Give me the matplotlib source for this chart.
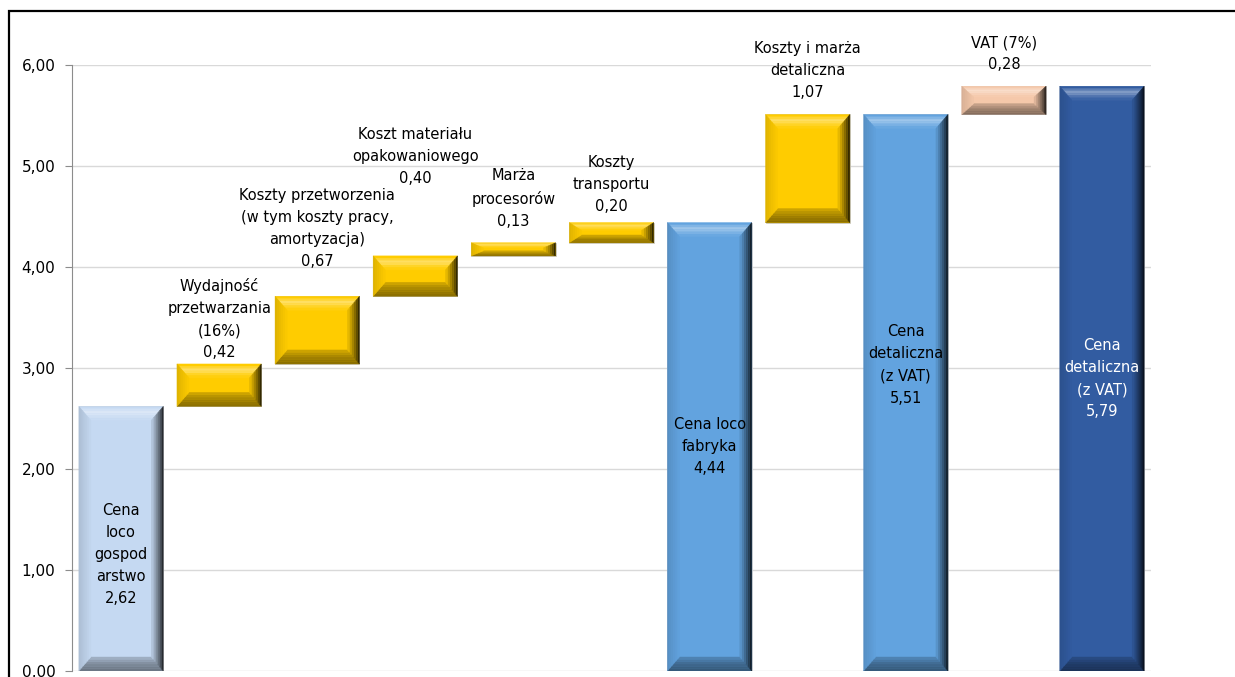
import matplotlib
matplotlib.use("Agg")
import matplotlib.pyplot as plt
from matplotlib.patches import Polygon, Rectangle
from matplotlib.ticker import FuncFormatter
from matplotlib.colors import to_rgb

# data: waterfall of price build-up (PLN/kg)
labels = [
    "Cena\nloco\ngospod\narstwo",
    "Wydajność\nprzetwarzania\n(16%)",
    "Koszty przetworzenia\n(w tym koszty pracy,\namortyzacja)",
    "Koszt materiału\nopakowaniowego",
    "Marża\nprocesorów",
    "Koszty\ntransportu",
    "Cena loco\nfabryka",
    "Koszty i marża\ndetaliczna",
    "Cena\ndetaliczna\n(z VAT)",
    "VAT (7%)",
    "Cena\ndetaliczna\n(z VAT)",
]
values = [2.62, 0.42, 0.67, 0.40, 0.13, 0.20, 4.44, 1.07, 5.51, 0.28, 5.79]
is_total = [True, False, False, False, False, False, True, False, True, False, True]

# style
colors = ["#c5d9f2", "#ffcc00", "#ffcc00", "#ffcc00", "#ffcc00", "#ffcc00",
          "#62a3df", "#ffcc00", "#62a3df", "#f5c8aa", "#325ca1"]
text_colors = ["black", None, None, None, None, None, "black", None, "black", None, "white"]
label_gap = [0, 2.5, 19.5, 50, 10, 6, 0, 10.5, 0, 10, 0]    # points above bar for step labels
inside_frac = [0.44, 0, 0, 0, 0, 0, 0.5, 0, 0.55, 0, 0.5]  # vertical position of inside labels

plt.rcParams['font.family'] = ['DejaVu Sans']

# bottoms from running total
bottoms = []
running = 0
for v, t in zip(values, is_total):
    if t:
        bottoms.append(0)
        running = v
    else:
        bottoms.append(running)
        running += v

fig = plt.figure(figsize=(12.35, 6.77), dpi=100)
ax = fig.add_axes([72 / 1235, 6 / 677, (1151 - 72) / 1235, 606 / 677])

x = list(range(len(values)))
bars = ax.bar(x, values, bottom=bottoms, width=0.86, color=colors,
              edgecolor="#c8c8c8", linewidth=0.6, zorder=3)


def mix(c, other, f):
    c = to_rgb(c)
    o = to_rgb(other)
    return tuple(c[i] * (1 - f) + o[i] * f for i in range(3))


# shading profiles for the bevel, outer edge -> inner edge
top_prof = [("white", 0.0), ("white", 0.2), ("white", 0.38), ("white", 0.3), ("white", 0.15), ("white", 0.05)]
left_prof = [("black", 0.12), ("black", 0.1), ("black", 0.08), ("black", 0.06), ("black", 0.04), ("black", 0.02)]
right_prof = [("black", 0.8), ("black", 0.62), ("black", 0.48), ("black", 0.35), ("black", 0.22), ("black", 0.1)]
bot_prof = [("black", 0.45), ("black", 0.42), ("black", 0.38), ("black", 0.33), ("black", 0.27), ("black", 0.2)]

px_x = 1079 / len(values)   # pixels per category
px_y = 606 / 6.0            # pixels per unit
for b, c in zip(bars, colors):
    x0 = b.get_x()
    x1 = x0 + b.get_width()
    y0 = b.get_y()
    y1 = y0 + b.get_height()
    dy = min(14 / px_y, b.get_height() / 2.6)
    dx = 12 / px_x
    n = len(top_prof)
    for k in range(n):
        t0 = k / n
        t1 = (k + 1) / n
        sides = [
            ([(x0 + t0 * dx, y1 - t0 * dy), (x1 - t0 * dx, y1 - t0 * dy),
              (x1 - t1 * dx, y1 - t1 * dy), (x0 + t1 * dx, y1 - t1 * dy)], top_prof[k]),
            ([(x0 + t0 * dx, y0 + t0 * dy), (x1 - t0 * dx, y0 + t0 * dy),
              (x1 - t1 * dx, y0 + t1 * dy), (x0 + t1 * dx, y0 + t1 * dy)], bot_prof[k]),
            ([(x0 + t0 * dx, y0 + t0 * dy), (x0 + t0 * dx, y1 - t0 * dy),
              (x0 + t1 * dx, y1 - t1 * dy), (x0 + t1 * dx, y0 + t1 * dy)], left_prof[k]),
            ([(x1 - t0 * dx, y0 + t0 * dy), (x1 - t0 * dx, y1 - t0 * dy),
              (x1 - t1 * dx, y1 - t1 * dy), (x1 - t1 * dx, y0 + t1 * dy)], right_prof[k]),
        ]
        for pts, (other, f) in sides:
            col = mix(c, other, f)
            ax.add_patch(Polygon(pts, closed=True, facecolor=col, edgecolor=col,
                                 lw=0.3, zorder=4))

# labels
for i, (lab, v) in enumerate(zip(labels, values)):
    txt = lab + "\n" + f"{v:.2f}".replace(".", ",")
    if is_total[i]:
        ax.text(i, v * inside_frac[i], txt, ha="center", va="center", fontsize=10.5,
                color=text_colors[i], linespacing=1.6, zorder=5)
    else:
        ax.annotate(txt, (i, bottoms[i] + v), xytext=(0, label_gap[i]),
                    textcoords="offset points", ha="center", va="bottom",
                    fontsize=10.5, linespacing=1.6, annotation_clip=False, zorder=5)

ax.set_xlim(-0.5, len(values) - 0.5)
ax.set_ylim(0, 6)
ax.set_yticks([0, 1, 2, 3, 4, 5, 6])
ax.yaxis.set_major_formatter(FuncFormatter(lambda v, p: f"{v:.2f}".replace(".", ",")))
ax.tick_params(axis="y", labelsize=11, length=5, pad=7, color="#8c8c8c", width=0.8)
ax.set_xticks([])
ax.grid(axis="y", color="#d9d9d9", linewidth=1, zorder=0)
for s in ["top", "right", "bottom"]:
    ax.spines[s].set_visible(False)
ax.spines["left"].set_color("#8c8c8c")
ax.spines["left"].set_linewidth(0.8)

# chart area frame (cut by the screenshot)
fig.add_artist(Rectangle((9 / 1235, -0.2), 1.2, (677 - 11) / 677 + 0.2,
                         transform=fig.transFigure, fill=False,
                         edgecolor="black", linewidth=1.6, clip_on=False))

fig.savefig("out.png", dpi=100)
